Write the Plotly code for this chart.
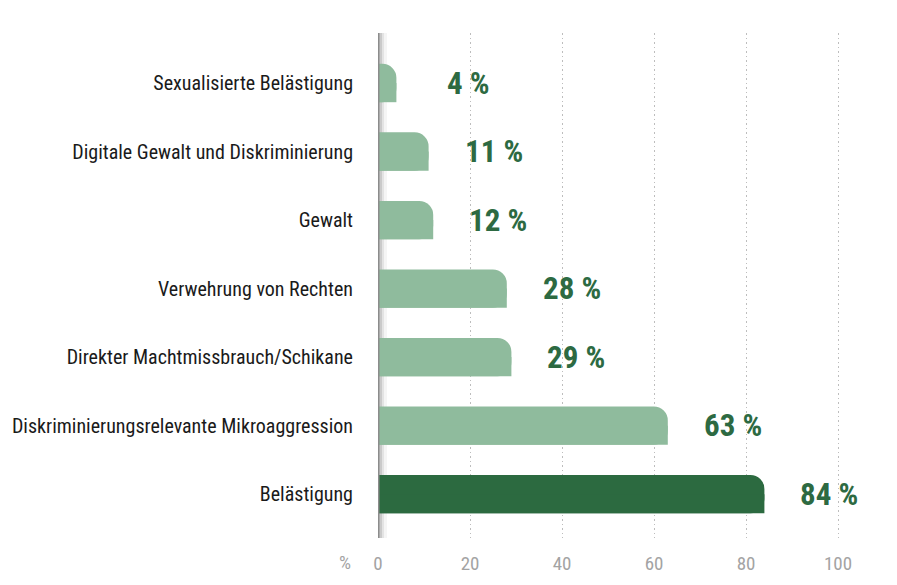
import plotly.graph_objects as go

# Data
categories = ["Belästigung", "Diskriminierungsrelevante Mikroaggression",
              "Direkter Machtmissbrauch/Schikane", "Verwehrung von Rechten",
              "Gewalt", "Digitale Gewalt und Diskriminierung",
              "Sexualisierte Belästigung"]
values = [84, 63, 29, 28, 12, 11, 4]
tick_vals = [0, 20, 40, 60, 80, 100]

light = '#8fbb9d'
dark = '#2c6a40'
colors = [dark] + [light] * (len(values) - 1)
font = "Liberation Sans Narrow, Roboto Condensed, Roboto, sans-serif"

fig = go.Figure()

# rounded top-right corner: full bar with radius, then square bottom half on top
fig.add_trace(go.Bar(y=categories, x=values, orientation='h', width=0.56,
                     marker=dict(color=colors, cornerradius=14, line=dict(width=0)),
                     hoverinfo='skip'))
fig.add_trace(go.Bar(y=categories, x=values, orientation='h', width=0.28, offset=-0.28,
                     marker=dict(color=colors, line=dict(width=0)),
                     hovertemplate='%{y}: %{x} %<extra></extra>'))

for cat, v in zip(categories, values):
    fig.add_annotation(x=v + 20, y=cat, text=f"{v} %", showarrow=False,
                       xanchor='right', yanchor='middle', xshift=4,
                       font=dict(family=font, size=31, color='#2d6a42', weight='bold'))

fig.add_annotation(x=0, xref='paper', xshift=-25, y=0, yref='paper', yshift=-24,
                   text="%", showarrow=False, xanchor='right', yanchor='middle',
                   font=dict(family=font, size=19, color='#a3a3a3'))

# axis line with soft shadow
for w, a in [(9, 0.04), (6, 0.07), (4, 0.11)]:
    fig.add_shape(type='rect', xref='x', xsizemode='pixel', xanchor=0, x0=0, x1=w,
                  yref='paper', y0=0, y1=1, line=dict(width=0),
                  fillcolor=f'rgba(0,0,0,{a})', layer='below')
fig.add_shape(type='line', xref='x', x0=0, x1=0, yref='paper', y0=0, y1=1,
              line=dict(color='#8c8c8c', width=3))

fig.update_layout(
    width=889, height=577,
    margin=dict(l=370, r=36, t=25, b=47, autoexpand=False),
    plot_bgcolor='white', paper_bgcolor='white',
    barmode='overlay', showlegend=False,
    font=dict(family=font),
)
fig.update_xaxes(range=[0, 105], tickvals=tick_vals, showgrid=True,
                 gridcolor='#bdbdbd', griddash='1.5px,3px', gridwidth=1.2,
                 zeroline=False, showline=False, ticks='', ticklabelstandoff=12,
                 automargin=False,
                 tickfont=dict(family=font, size=19, color='#a3a3a3'))
fig.update_yaxes(categoryorder='array', categoryarray=categories,
                 range=[-0.64, 6.73], showgrid=False, zeroline=False, ticks='',
                 ticklabelstandoff=24, automargin=False,
                 tickfont=dict(family=font, size=20, color='#1a1a1a'))

fig.write_html("out.html")
